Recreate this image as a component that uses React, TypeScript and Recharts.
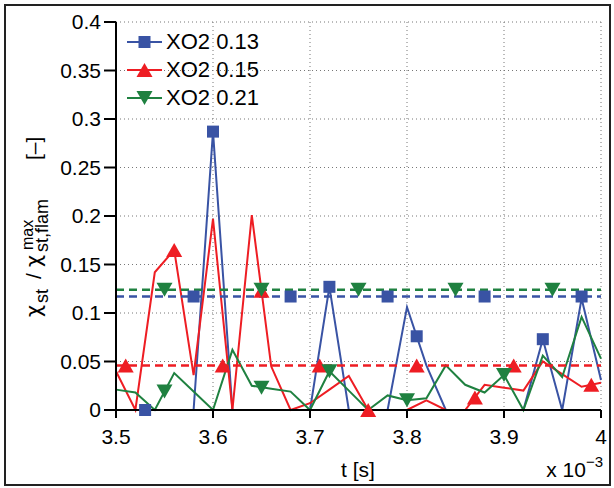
import React from "react";
import {
  ComposedChart,
  Line,
  Scatter,
  XAxis,
  YAxis,
  CartesianGrid,
  ReferenceLine,
  Legend
} from "recharts";

const FONT = '"Liberation Sans", Arial, Helvetica, sans-serif';
const GREEK = '"DejaVu Sans", "Liberation Sans", sans-serif';

// time samples [ms]
const times = [
  3.5, 3.52, 3.54, 3.56, 3.58, 3.6, 3.62, 3.64, 3.66, 3.68, 3.7, 3.72, 3.74,
  3.76, 3.78, 3.8, 3.82, 3.84, 3.86, 3.88, 3.9, 3.92, 3.94, 3.96, 3.98, 4.0
];

const xo2_013 = [
  0, 0, 0, 0, 0, 0.287, 0, 0, 0, 0, 0, 0.127, 0, 0, 0, 0.106, 0.046, 0, 0, 0,
  0, 0, 0.073, 0, 0.115, 0.031
];
const xo2_015 = [
  0.04, 0, 0.142, 0.165, 0.036, 0.197, 0, 0.201, 0.045, 0, 0.007, 0.021,
  0.035, 0, 0, 0, 0.01, 0, 0, 0.026, 0.023, 0.02, 0.05, 0.037, 0.024, 0.028
];
const xo2_021 = [
  0.021, 0.018, 0, 0.038, 0.019, 0, 0.062, 0.025, 0.022, 0.019, 0, 0.04, 0.02,
  0, 0.015, 0.01, 0.012, 0.046, 0.026, 0.018, 0.036, 0, 0.056, 0.034, 0.096,
  0.053
];

// time-averaged values (dashed lines)
const means = [0.117, 0.046, 0.124];

// marker positions
const markT_013 = [3.53, 3.58, 3.6, 3.68, 3.72, 3.78, 3.81, 3.88, 3.94, 3.98];
const markV_013 = [0, 0.117, 0.287, 0.117, 0.127, 0.117, 0.076, 0.117, 0.073, 0.117];
const markT_015 = [3.51, 3.56, 3.61, 3.65, 3.71, 3.76, 3.81, 3.87, 3.91, 3.99];
const markV_015 = [0.046, 0.165, 0.046, 0.123, 0.046, 0, 0.046, 0.013, 0.046, 0.026];
const markT_021 = [3.55, 3.55, 3.65, 3.65, 3.72, 3.75, 3.8, 3.85, 3.9, 3.95];
const markV_021 = [0.124, 0.019, 0.124, 0.023, 0.04, 0.124, 0.01, 0.124, 0.036, 0.124];

const names = ["XO2 0.13", "XO2 0.15", "XO2 0.21"];
const colors = ["#3953a4", "#ee1d23", "#1f8140"];

const xTicks = [3.5, 3.6, 3.7, 3.8, 3.9, 4];
const yTicks = [0, 0.05, 0.1, 0.15, 0.2, 0.25, 0.3, 0.35, 0.4];

const toPoints = (ts: number[], vs: number[]) =>
  ts.map((t, i) => ({ t, v: vs[i] }));

const lineData = [xo2_013, xo2_015, xo2_021].map((vs) => toPoints(times, vs));
const markData = [
  toPoints(markT_013, markV_013),
  toPoints(markT_015, markV_015),
  toPoints(markT_021, markV_021)
];

const square = (color: string) => (p: any) =>
  <rect x={p.cx - 6} y={p.cy - 6} width={12} height={12} fill={color} />;
const triUp = (color: string) => (p: any) =>
  <path d={`M${p.cx - 8},${p.cy + 7}L${p.cx + 8},${p.cy + 7}L${p.cx},${p.cy - 7}Z`} fill={color} />;
const triDown = (color: string) => (p: any) =>
  <path d={`M${p.cx - 8},${p.cy - 7}L${p.cx + 8},${p.cy - 7}L${p.cx},${p.cy + 7}Z`} fill={color} />;

const shapes = [square(colors[0]), triUp(colors[1]), triDown(colors[2])];

function LegendBox() {
  return (
    <div style={{ fontFamily: FONT, fontSize: 22, color: "#000" }}>
      {names.map((n, i) => (
        <div key={n} style={{ display: "flex", alignItems: "center", height: 28 }}>
          <svg width={38} height={28}>
            <line x1={1} x2={36} y1={14} y2={14} stroke={colors[i]} strokeWidth={2} />
            {shapes[i]({ cx: 18.5, cy: 14 })}
          </svg>
          <span style={{ marginLeft: 2, lineHeight: "28px" }}>{n}</span>
        </div>
      ))}
    </div>
  );
}

function YTitle() {
  return (
    <g transform="translate(41,317) rotate(-90)" fontFamily={FONT} fill="#000">
      <text x={0} y={0} fontSize={21} fontFamily={GREEK}>χ</text>
      <text x={14} y={7} fontSize={18}>st</text>
      <text x={38} y={0} fontSize={21}>/</text>
      <text x={50} y={0} fontSize={21} fontFamily={GREEK}>χ</text>
      <text x={65} y={7} fontSize={18}>st,flam</text>
      <text x={67} y={-8} fontSize={16}>max</text>
      <text x={157} y={0} fontSize={21}>[–]</text>
    </g>
  );
}

function XTitle() {
  return (
    <g fontFamily={FONT} fill="#000">
      <text x={358} y={477} fontSize={21} textAnchor="middle">t [s]</text>
      <text x={603} y={477} fontSize={21} textAnchor="end">
        x 10<tspan dy={-10} fontSize={15}>−3</tspan>
      </text>
    </g>
  );
}

export default function App() {
  const tickStyle = { fill: "#000", fontSize: 21, fontFamily: FONT };
  const axisStyle = { stroke: "#000", strokeWidth: 2 };
  return (
    <div style={{ position: "relative", width: 614, height: 488 }}>
      <style>{"body{margin:0}"}</style>
      <div
        style={{
          position: "absolute",
          left: 4,
          top: 4,
          width: 607,
          height: 482,
          border: "2px solid #222",
          boxSizing: "border-box"
        }}
      />
      <ComposedChart
        width={614}
        height={488}
        margin={{ top: 22, right: 13, left: 0, bottom: 0 }}
      >
        <CartesianGrid stroke="#777" strokeDasharray="1 3" />
        <XAxis
          type="number"
          dataKey="t"
          domain={[3.5, 4]}
          ticks={xTicks}
          tickFormatter={(v) => String(v)}
          height={78}
          tick={tickStyle}
          tickSize={8}
          tickMargin={11}
          axisLine={axisStyle}
          tickLine={axisStyle}
          allowDuplicatedCategory={false}
          label={<XTitle />}
        />
        <YAxis
          type="number"
          domain={[0, 0.4]}
          ticks={yTicks}
          tickFormatter={(v) => String(v)}
          width={116}
          tick={tickStyle}
          tickSize={12}
          tickMargin={3}
          axisLine={axisStyle}
          tickLine={axisStyle}
          label={<YTitle />}
        />
        <Legend
          layout="vertical"
          align="center"
          verticalAlign="middle"
          wrapperStyle={{ left: 126, top: 28, right: "auto", bottom: "auto", width: "auto" }}
          content={() => <LegendBox />}
        />
        {lineData.map((d, i) => (
          <Line
            key={names[i]}
            data={d}
            dataKey="v"
            type="linear"
            stroke={colors[i]}
            strokeWidth={2}
            dot={false}
            isAnimationActive={false}
            legendType="none"
          />
        ))}
        {means.map((m, i) => (
          <ReferenceLine
            key={"m" + i}
            y={m}
            stroke={colors[i]}
            strokeWidth={2.5}
            strokeDasharray="8 5"
          />
        ))}
        {markData.map((d, i) => (
          <Scatter
            key={"s" + i}
            data={d}
            dataKey="v"
            shape={shapes[i]}
            isAnimationActive={false}
            legendType="none"
          />
        ))}
      </ComposedChart>
    </div>
  );
}
